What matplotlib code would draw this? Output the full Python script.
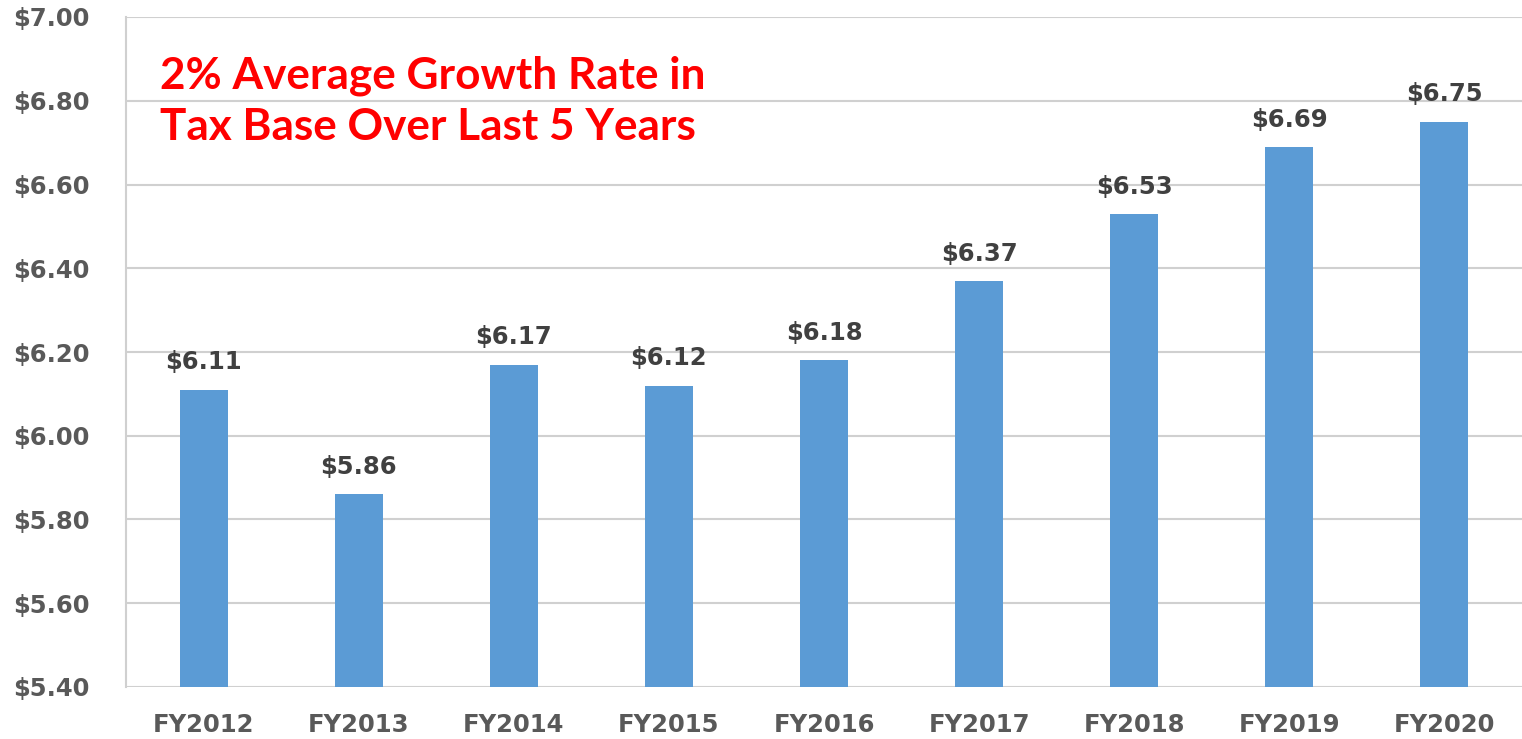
import matplotlib
matplotlib.use("Agg")
import matplotlib.pyplot as plt
from matplotlib.ticker import FuncFormatter, MultipleLocator

categories = ["FY2012", "FY2013", "FY2014", "FY2015", "FY2016", "FY2017", "FY2018", "FY2019", "FY2020"]
values = [6.11, 5.86, 6.17, 6.12, 6.18, 6.37, 6.53, 6.69, 6.75]
labels = ["$6.11", "$5.86", "$6.17", "$6.12", "$6.18", "$6.37", "$6.53", "$6.69", "$6.75"]
annotation = "2% Average Growth Rate in\nTax Base Over Last 5 Years"

W, H = 1522, 739
fig = plt.figure(figsize=(W / 100, H / 100), dpi=100)
ax = fig.add_axes([126 / W, 1 - 687 / H, (W - 126) / W, (687 - 17) / H])

x = list(range(len(categories)))
ax.bar(x, values, width=0.31, color="#5B9BD5", zorder=3)
ax.set_xlim(-0.5, len(categories) - 0.5)
ax.set_ylim(5.40, 7.00)
ax.yaxis.set_major_locator(MultipleLocator(0.2))
ax.yaxis.set_major_formatter(FuncFormatter(lambda v, p: f"${v:.2f}"))
ax.grid(axis="y", color="#D0D0D0", linewidth=1.5, zorder=0)
ax.set_axisbelow(True)
for s in ["top", "right", "bottom"]:
    ax.spines[s].set_visible(False)
ax.spines["left"].set_color("#D0D0D0")
ax.spines["left"].set_linewidth(1.5)
ax.set_xticks(x)
ax.set_xticklabels(categories)
ax.tick_params(axis="both", length=0)
ax.tick_params(axis="y", pad=26)
ax.tick_params(axis="x", pad=19)
for t in ax.get_xticklabels() + ax.get_yticklabels():
    t.set_fontsize(17.5)
    t.set_fontweight("bold")
    t.set_color("#595959")

for xi, v, lab in zip(x, values, labels):
    ax.annotate(lab, (xi, v), xytext=(0, 11), textcoords="offset points",
                ha="center", va="bottom", fontsize=17.5, fontweight="bold",
                color="#404040")

fig.text(160 / W, 1 - 56 / H, annotation, ha="left", va="top", color="#FF0000",
         fontsize=31.8, fontweight="bold", family=["Lato", "DejaVu Sans"],
         linespacing=1.32)

fig.savefig("out.png", dpi=100)
